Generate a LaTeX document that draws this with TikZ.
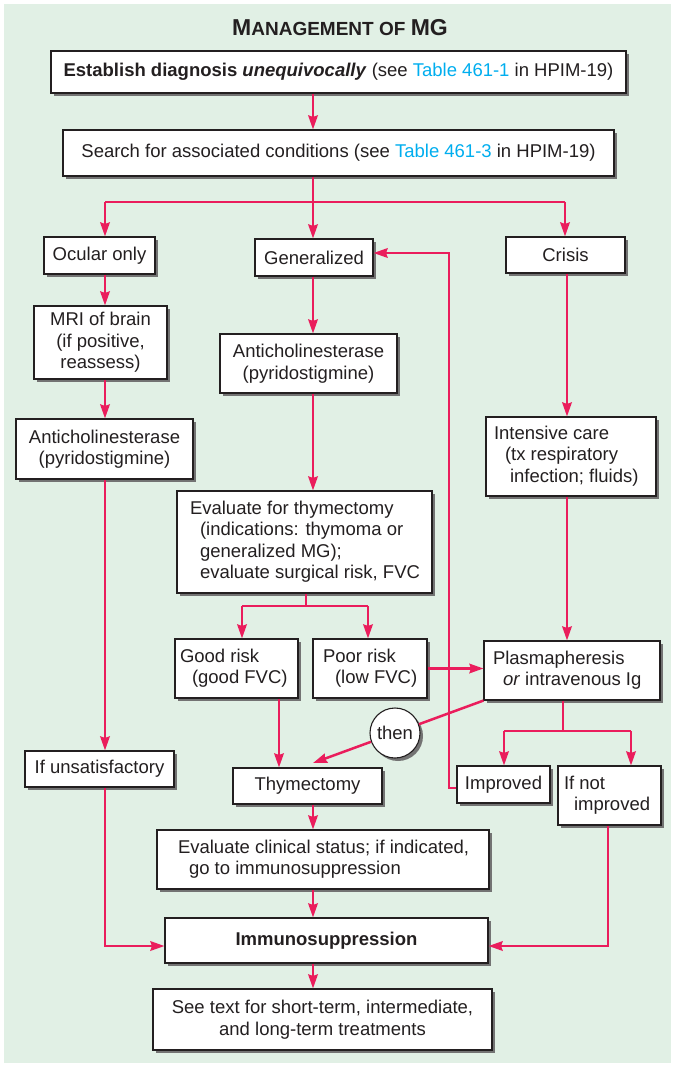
\documentclass[tikz,border=0pt]{standalone}
\usepackage{fontspec}
\setmainfont{Liberation Sans}
\usetikzlibrary{arrows.meta,shadows}
\definecolor{bg}{HTML}{E1F0E5}
\definecolor{arr}{HTML}{EA1D5C}
\definecolor{lnk}{HTML}{00AEEF}
\definecolor{txt}{HTML}{231F20}
\newcommand{\lbox}[3]{\makebox[#1][l]{\hspace*{#2}\begin{tabular}{@{}l@{}}#3\end{tabular}}}
\begin{document}
\begin{tikzpicture}[x=1pt,y=-1pt,
  box/.style={draw=txt, fill=white, line width=1.1pt, inner sep=0pt, text=txt,
    font=\fontsize{18.5}{21.5}\selectfont,
    general shadow={fill=black!55, shadow xshift=3pt, shadow yshift=-3pt}},
  cbox/.style={box, align=center},
  flow/.style={draw=arr, line width=2.5pt, -{Stealth[length=14pt,width=9.5pt,inset=1.5pt]}},
  seg/.style={draw=arr, line width=2.5pt},
]
\useasboundingbox (0,0) rectangle (674,1067);
\fill[bg] (4,4) rectangle (671,1063);

\node[text=txt, font=\bfseries, inner sep=0pt] (title) at (340,28)
  {\fontsize{23}{26}\selectfont M\fontsize{19}{22}\selectfont ANAGEMENT OF \fontsize{23}{26}\selectfont MG};

\node[box, minimum width=575pt, minimum height=42pt] (b1) at (338.5,72)
  {\textbf{Establish diagnosis \textit{unequivocally}} (see \textcolor{lnk}{Table 461-1} in HPIM-19)};
\node[box, minimum width=551pt, minimum height=46pt] (b2) at (338.5,153)
  {Search for associated conditions (see \textcolor{lnk}{Table 461-3} in HPIM-19)};

\node[cbox, minimum width=111pt, minimum height=37pt] (ocular) at (99.5,255.5) {Ocular only};
\node[cbox, minimum width=118pt, minimum height=37pt] (gen) at (314,257.5) {Generalized};
\node[cbox, minimum width=119pt, minimum height=36pt] (crisis) at (565.5,255) {Crisis};

\node[cbox, minimum width=133pt, minimum height=73pt] (mri) at (100.5,342.5) {MRI of brain\\(if positive,\\reassess)};
\node[cbox, minimum width=177pt, minimum height=60pt] (acl) at (104.5,449) {Anticholinesterase\\(pyridostigmine)};
\node[cbox, minimum width=177pt, minimum height=59pt] (acm) at (308.5,363.5) {Anticholinesterase\\(pyridostigmine)};

\node[box, minimum height=102pt] (evth) at (304.5,542)
  {\lbox{255pt}{13pt}{Evaluate for thymectomy\\\hspace*{10pt}(indications: thymoma or\\\hspace*{10pt}generalized MG);\\\hspace*{10pt}evaluate surgical risk, FVC}};
\node[box, minimum height=79pt] (icare) at (571,456.5)
  {\lbox{170pt}{8pt}{Intensive care\\\hspace*{11pt}(tx respiratory\\\hspace*{16pt}infection; fluids)}};

\node[box, minimum height=59pt] (good) at (236.5,668.5)
  {\lbox{123pt}{5pt}{Good risk\\\hspace*{12pt}(good FVC)}};
\node[box, minimum height=59pt] (poor) at (370,668.5)
  {\lbox{114pt}{10pt}{Poor risk\\\hspace*{12pt}(low FVC)}};
\node[box, minimum height=59pt] (plasma) at (572,670.5)
  {\lbox{176pt}{9pt}{Plasmapheresis\\\hspace*{10pt}\textit{or} intravenous Ig}};

\node[cbox, minimum width=149pt, minimum height=36pt] (unsat) at (99.5,769) {If unsatisfactory};
\node[cbox, minimum width=149pt, minimum height=36pt] (thym) at (307.5,786) {Thymectomy};
\node[cbox, minimum width=93pt, minimum height=37pt] (impr) at (503.5,784.5) {Improved};
\node[box, minimum height=59pt] (notimpr) at (609.5,795.5)
  {\lbox{103pt}{6pt}{If not\\\hspace*{10pt}improved}};

\node[box, minimum height=59pt] (evcl) at (323,859.5)
  {\lbox{332pt}{21pt}{Evaluate clinical status; if indicated,\\\hspace*{11pt}go to immunosuppression}};
\node[cbox, minimum width=323pt, minimum height=45pt] (immuno) at (326.5,940.5) {\textbf{Immunosuppression}};
\node[cbox, minimum width=339pt, minimum height=61pt] (seetext) at (322.5,1019.5)
  {See text for short-term, intermediate,\\and long-term treatments};

\node[box, circle, minimum size=50pt] (then) at (395,733) {then};

% column / junction coordinates
\coordinate (cM) at (313,0);
\coordinate (cL) at (105,0);
\coordinate (cR) at (567,0);
\coordinate (cG) at (279,0);
\coordinate (cN) at (608,0);
\coordinate (cI) at (0,946);
\coordinate (lc) at (0,253);
\coordinate (j1) at (313,202);
\coordinate (j1l) at (105,202);
\coordinate (j1r) at (565,202);
\coordinate (j2) at (306,606);
\coordinate (j2l) at (242,606);
\coordinate (j2r) at (368,606);
\coordinate (j3) at (563,731);
\coordinate (j3l) at (504,731);
\coordinate (j3r) at (631,731);
\coordinate (lp) at (449,788);
\coordinate (tt) at (313,763);

\draw[flow] (b1.south -| cM) -- (b2.north -| cM);
\draw[seg] (b2.south -| j1) -- (j1);
\draw[seg] (j1l) -- (j1r);
\draw[flow] (j1l) -- (j1l |- ocular.north);
\draw[flow] (j1) -- (j1 |- gen.north);
\draw[flow] (j1r) -- (j1r |- crisis.north);

\draw[flow] (ocular.south -| cL) -- (mri.north -| cL);
\draw[flow] (mri.south -| cL) -- (acl.north -| cL);
\draw[flow] (acl.south -| cL) -- (unsat.north -| cL);
\draw[flow] (unsat.south -| cL) |- (immuno.west |- cI);

\draw[flow] (gen.south -| cM) -- (acm.north -| cM);
\draw[flow] (acm.south -| cM) -- (evth.north -| cM);
\draw[seg] (evth.south -| j2) -- (j2);
\draw[seg] (j2l) -- (j2r);
\draw[flow] (j2l) -- (j2l |- good.north);
\draw[flow] (j2r) -- (j2r |- poor.north);
\draw[flow] (poor.east) -- (plasma.west |- poor.east);
\draw[flow] (good.south -| cG) -- (thym.north -| cG);

\draw[flow] (crisis.south -| cR) -- (icare.north -| cR);
\draw[flow] (icare.south -| cR) -- (plasma.north -| cR);
\draw[seg] (plasma.south -| j3) -- (j3);
\draw[seg] (j3l) -- (j3r);
\draw[flow] (j3l) -- (j3l |- impr.north);
\draw[flow] (j3r) -- (j3r |- notimpr.north);

\draw[flow] (impr.west |- lp) -- (lp) |- (gen.east |- lc);
\draw[flow] (notimpr.south -| cN) |- (immuno.east |- cI);

\draw[seg] (plasma.south west) -- (then);
\draw[flow] (then) -- (tt);

\draw[flow] (thym.south -| cM) -- (evcl.north -| cM);
\draw[flow] (evcl.south -| cM) -- (immuno.north -| cM);
\draw[flow] (immuno.south -| cM) -- (seetext.north -| cM);
\end{tikzpicture}
\end{document}
